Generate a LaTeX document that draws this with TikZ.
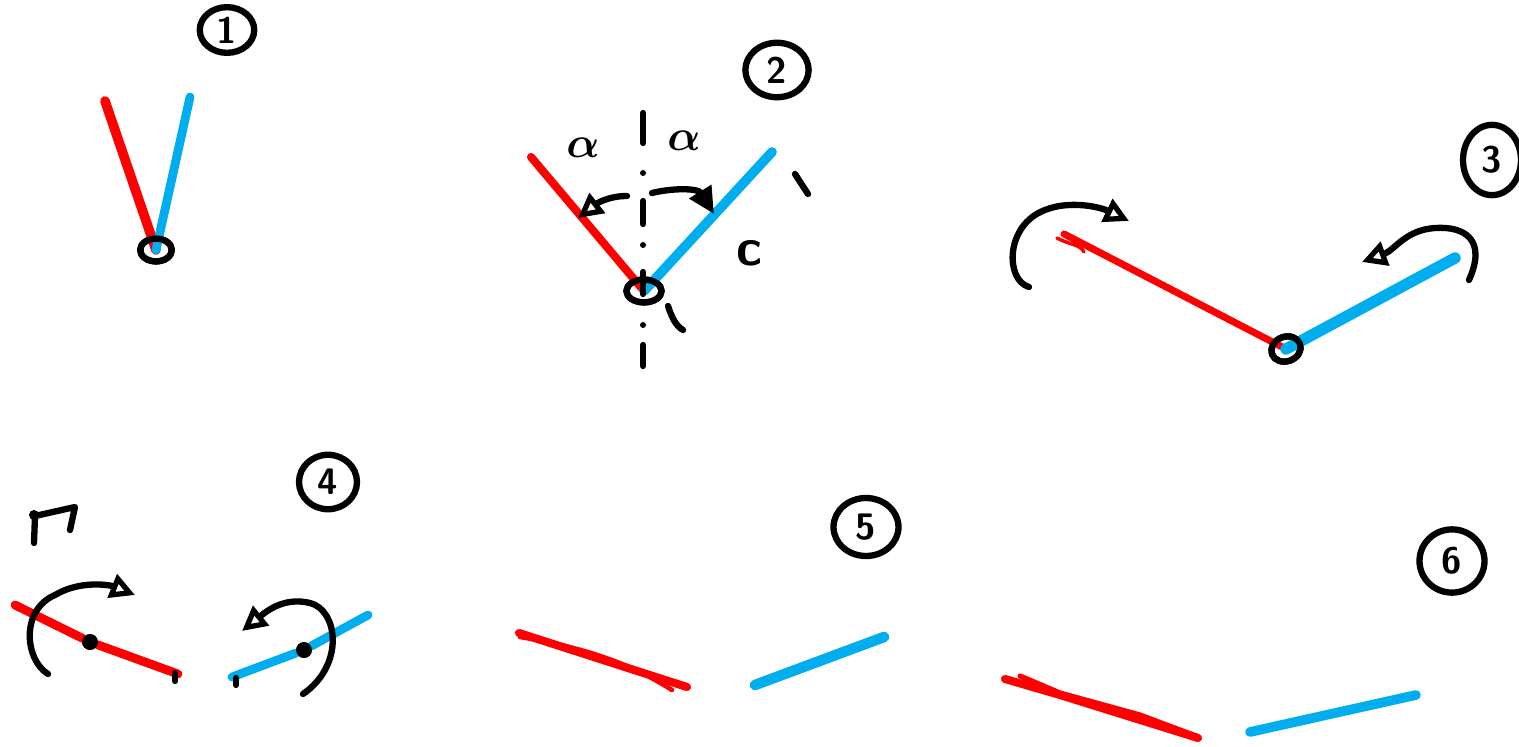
\documentclass[tikz,border=0pt]{standalone}
\usepackage{amsmath}
\usetikzlibrary{arrows.meta,shapes.geometric}
\definecolor{skred}{RGB}{255,0,0}
\definecolor{skblue}{RGB}{0,174,239}
\tikzset{
  ink/.style={line width=3.6pt, line cap=round, line join=round, black},
  redbar/.style={line width=4.6pt, line cap=round, skred},
  bluebar/.style={line width=4.6pt, line cap=round, skblue},
  numlabel/.style={draw, ink, ellipse, inner sep=1.5pt, minimum width=#1, font=\sffamily\bfseries\fontsize{21}{21}\selectfont},
  numlabel/.default=52pt,
  pivot/.style={draw, ink, ellipse, inner sep=0pt, minimum width=18pt, minimum height=13pt},
  dotpt/.style={circle, fill=black, inner sep=0pt, minimum size=9pt},
  lbl/.style={font=\fontsize{30}{30}\selectfont},
  openhead/.style={-{Triangle[open, length=14pt, width=14pt, line width=3pt]}},
  fullhead/.style={-{Triangle[length=15pt, width=14pt]}},
}
\begin{document}
\begin{tikzpicture}[x=0.02cm, y=-0.02cm]
\useasboundingbox (0,0) rectangle (1519,747);

% ---------- panel 1 ----------
\node[numlabel=31pt, minimum height=26pt] (n1) at (227,30) {1};
\node[pivot] (p1) at (156,250) {};
\coordinate (r1) at (105,101);
\coordinate (b1) at (190,97);
\draw[redbar, line width=5.5pt] (r1) -- (p1.center);
\draw[bluebar, line width=5pt] (b1) -- (p1.center);
\node[pivot] at (156,250) {};

% ---------- panel 2 ----------
\node[numlabel=36pt, minimum height=31pt] (n2) at (777,70) {2};
\node[pivot, minimum width=20pt, minimum height=13pt] (p2) at (644,291) {};
\coordinate (r2) at (531,157);
\coordinate (b2) at (772,152);
\draw[redbar] (r2) -- (p2.center);
\draw[bluebar, line width=5.5pt] (b2) -- (p2.center);
\node[pivot, minimum width=20pt, minimum height=13pt] at (644,291) {};
% axis (dash-dot)
\coordinate (ax1) at (643,112);
\coordinate (ax2) at (643,368);
\draw[ink] (643,113) -- (643,143);
\fill (643,173) circle (3);
\draw[ink] (643,201) -- (643,224);
\fill (643,245) circle (3);
\draw[ink] (643,272) -- (643,294);
\fill (643,325) circle (3);
\draw[ink] (643,345) -- (643,366);
\node[lbl] (al1) at (583,148) {$\boldsymbol{\alpha}$};
\node[lbl] (al2) at (684,141) {$\boldsymbol{\alpha}$};
\node[font=\sffamily\bfseries\fontsize{30}{30}\selectfont] (c2) at (749,253) {c};
\coordinate (a2s) at (627,196);
\coordinate (a2e) at (578,218);
\draw[ink, openhead] (a2s) .. controls (608,196) and (596,204) .. (a2e);
\coordinate (b2s) at (652,193);
\coordinate (b2e) at (714,214);
\draw[ink, fullhead] (b2s) .. controls (672,188) and (698,188) .. (b2e);
\draw[ink] (795,174) -- (808,194);
\draw[ink] (668,306) .. controls (672,318) and (676,326) .. (683,330);

% ---------- panel 3 ----------
\node[numlabel=33pt, minimum height=40pt] (n3) at (1492,160) {3};
\node[pivot, minimum width=17pt, minimum height=14pt, rotate=20] (p3) at (1286,349) {};
\coordinate (r3) at (1064,234);
\coordinate (b3) at (1455,258);
\draw[redbar, line width=4pt] (r3) -- (p3.center);
\draw[skred, line width=2pt, line cap=round] (1057,238) .. controls (1070,245) and (1080,244) .. (1084,252);
\draw[bluebar, line width=6.5pt] (b3) -- (p3.center);
\node[pivot, minimum width=17pt, minimum height=14pt, rotate=20] at (1286,349) {};
\coordinate (a3s) at (1029,287);
\coordinate (a3e) at (1129,221);
\draw[ink, openhead] (a3s) .. controls (1005,280) and (1005,225) .. (1045,210)
   .. controls (1070,200) and (1100,207) .. (a3e);
\coordinate (b3s) at (1469,280);
\coordinate (b3e) at (1362,262);
\draw[ink, openhead] (b3s) .. controls (1487,240) and (1465,226) .. (1435,228)
   .. controls (1405,230) and (1395,250) .. (b3e);

% ---------- panel 4 ----------
\node[numlabel=33pt, minimum height=31pt] (n4) at (328,482) {4};
\node[dotpt] (d4a) at (90,642) {};
\node[dotpt] (d4b) at (304,650) {};
\coordinate (r4a) at (15,605);
\coordinate (r4b) at (178,674);
\coordinate (b4a) at (232,677);
\coordinate (b4b) at (368,615);
\draw[redbar, line width=5pt] (r4a) -- (d4a) -- (r4b);
\draw[bluebar, line width=5pt] (b4a) -- (d4b) -- (b4b);
\node[dotpt] at (90,642) {};
\node[dotpt] at (304,650) {};
\draw[ink] (175,673) -- (175,681);
\draw[ink] (236,678) -- (236,685);
% Gamma-like mark
\coordinate (g1) at (34,515);
\draw[ink] (34,543) -- (35,516) -- (75,507) -- (70,530);
\fill (34,515) circle (5);
\coordinate (a4s) at (48,674);
\coordinate (a4e) at (135,595);
\draw[ink, openhead] (a4s) .. controls (25,660) and (20,610) .. (55,595)
   .. controls (80,580) and (110,585) .. (a4e);
\coordinate (b4s) at (303,694);
\coordinate (b4e) at (242,631);
\draw[ink, openhead] (b4s) .. controls (345,665) and (338,610) .. (310,603)
   .. controls (285,597) and (268,610) .. (b4e);

% ---------- panel 5 ----------
\node[numlabel=37pt, minimum height=33pt] (n5) at (866,527) {5};
\coordinate (r5a) at (519,633);
\coordinate (r5b) at (687,687);
\coordinate (b5a) at (755,685);
\coordinate (b5b) at (884,637);
\draw[redbar] (r5a) -- (r5b);
\draw[redbar, line width=2.6pt] (520,637) .. controls (600,650) and (640,670) .. (672,690);
\draw[bluebar, line width=6pt] (b5a) -- (b5b);

% ---------- panel 6 ----------
\node[numlabel=37pt, minimum height=36pt] (n6) at (1452,561) {6};
\coordinate (r6a) at (1005,679);
\coordinate (r6b) at (1198,738);
\coordinate (b6a) at (1250,732);
\coordinate (b6b) at (1416,695);
\draw[redbar] (r6a) -- (1060,695) -- (r6b);
\draw[redbar, line width=3pt] (1020,676) -- (1060,693) -- (1140,715) -- (1196,736);
\draw[bluebar, line width=5.5pt] (b6a) -- (b6b);
\end{tikzpicture}
\end{document}
